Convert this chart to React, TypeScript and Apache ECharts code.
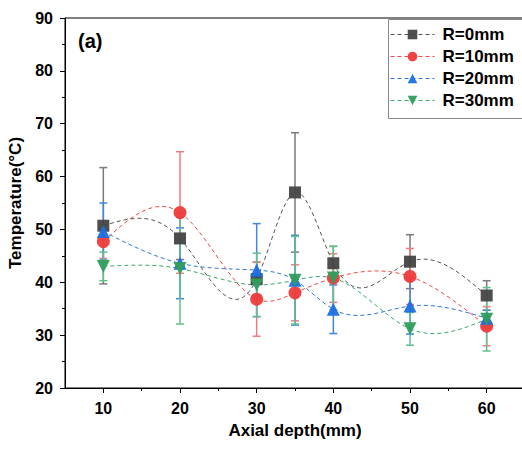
import React, { useEffect, useRef } from 'react';
import * as echarts from 'echarts';

const depths = [10, 20, 30, 35, 40, 50, 60];
const seriesNames = ['R=0mm', 'R=10mm', 'R=20mm', 'R=30mm'];
const r0 = [50.7, 48.3, 40.6, 57.0, 43.6, 43.9, 37.5];
const r0Err = [11.0, 4.0, 3.2, 11.3, 3.2, 5.1, 2.8];
const r10 = [47.7, 53.2, 36.8, 38.0, 40.8, 41.1, 31.7];
const r10Err = [3.2, 11.5, 7.0, 5.3, 4.6, 5.3, 3.7];
const r20 = [49.6, 43.6, 42.3, 40.4, 34.9, 35.5, 33.2];
const r20Err = [5.4, 6.7, 8.8, 8.5, 4.6, 5.3, 1.5];
const r30 = [43.0, 42.6, 39.5, 40.4, 40.8, 31.2, 33.0];
const r30Err = [2.7, 10.5, 6.0, 8.3, 6.0, 3.1, 6.0];
const xMajor = [10, 20, 30, 40, 50, 60];
const xMinor = [15, 25, 35, 45, 55];

const FONT = '"Liberation Sans", Arial, sans-serif';

const groups = [
  { name: seriesNames[0], vals: r0, errs: r0Err, marker: '#454545', line: '#555555', err: '#7a7a7a', symbol: 'rect', size: 12, rot: 0 },
  { name: seriesNames[1], vals: r10, errs: r10Err, marker: '#ee3b3b', line: '#ee4848', err: '#f07c7c', symbol: 'circle', size: 13, rot: 0 },
  { name: seriesNames[2], vals: r20, errs: r20Err, marker: '#1c6fe0', line: '#2e77da', err: '#3f88e2', symbol: 'triangle', size: 13, rot: 0 },
  { name: seriesNames[3], vals: r30, errs: r30Err, marker: '#2f9e5c', line: '#3aaa6a', err: '#62bf8c', symbol: 'triangle', size: 13, rot: 180 },
];

// natural cubic spline second derivatives
function splineM(xs: number[], ys: number[]): number[] {
  const n = xs.length;
  const M = new Array(n).fill(0);
  if (n < 3) return M;
  const h: number[] = [];
  for (let i = 0; i < n - 1; i++) h.push(xs[i + 1] - xs[i]);
  const a: number[] = new Array(n).fill(0);
  const b: number[] = new Array(n).fill(0);
  const c: number[] = new Array(n).fill(0);
  const d: number[] = new Array(n).fill(0);
  b[0] = 1; b[n - 1] = 1;
  for (let i = 1; i < n - 1; i++) {
    a[i] = h[i - 1];
    b[i] = 2 * (h[i - 1] + h[i]);
    c[i] = h[i];
    d[i] = 6 * ((ys[i + 1] - ys[i]) / h[i] - (ys[i] - ys[i - 1]) / h[i - 1]);
  }
  const cp = new Array(n).fill(0);
  const dp = new Array(n).fill(0);
  cp[0] = c[0] / b[0];
  dp[0] = d[0] / b[0];
  for (let i = 1; i < n; i++) {
    const m = b[i] - a[i] * cp[i - 1];
    cp[i] = c[i] / m;
    dp[i] = (d[i] - a[i] * dp[i - 1]) / m;
  }
  M[n - 1] = dp[n - 1];
  for (let i = n - 2; i >= 0; i--) M[i] = dp[i] - cp[i] * M[i + 1];
  return M;
}

export default function App() {
  const ref = useRef<HTMLDivElement>(null);
  useEffect(() => {
    if (!ref.current) return;
    const chart = echarts.init(ref.current, undefined, { renderer: 'svg' });
    const series: any[] = [];
    groups.forEach((g) => {
      series.push({
        type: 'custom',
        name: g.name + ' error',
        xAxisIndex: 0,
        yAxisIndex: 0,
        z: 1,
        data: depths.map((d, i) => [d, g.vals[i] - g.errs[i], g.vals[i] + g.errs[i]]),
        encode: { x: 0, y: [1, 2] },
        renderItem: (params: any, api: any) => {
          const x = api.value(0);
          const lo = api.coord([x, api.value(1)]);
          const hi = api.coord([x, api.value(2)]);
          const w = 4;
          const style = { stroke: g.err, lineWidth: 1.5, fill: 'none' };
          return {
            type: 'group',
            children: [
              { type: 'line', shape: { x1: lo[0], y1: lo[1], x2: hi[0], y2: hi[1] }, style },
              { type: 'line', shape: { x1: lo[0] - w, y1: lo[1], x2: lo[0] + w, y2: lo[1] }, style },
              { type: 'line', shape: { x1: hi[0] - w, y1: hi[1], x2: hi[0] + w, y2: hi[1] }, style },
            ],
          };
        },
      });
    });
    groups.forEach((g) => {
      const M = splineM(depths, g.vals);
      series.push({
        type: 'custom',
        name: g.name + ' curve',
        xAxisIndex: 0,
        yAxisIndex: 0,
        z: 2,
        data: depths.map((d, i) => [d, g.vals[i]]),
        encode: { x: 0, y: 1 },
        renderItem: (params: any, api: any) => {
          const i = params.dataIndex;
          if (i >= depths.length - 1) return null;
          const x0 = depths[i], x1 = depths[i + 1];
          const y0 = g.vals[i], y1 = g.vals[i + 1];
          const h = x1 - x0;
          const s = (y1 - y0) / h;
          const m0 = s - (h * (2 * M[i] + M[i + 1])) / 6;
          const m1 = s + (h * (M[i] + 2 * M[i + 1])) / 6;
          const p0 = api.coord([x0, y0]);
          const p1 = api.coord([x0 + h / 3, y0 + (m0 * h) / 3]);
          const p2 = api.coord([x1 - h / 3, y1 - (m1 * h) / 3]);
          const p3 = api.coord([x1, y1]);
          return {
            type: 'bezierCurve',
            shape: { x1: p0[0], y1: p0[1], cpx1: p1[0], cpy1: p1[1], cpx2: p2[0], cpy2: p2[1], x2: p3[0], y2: p3[1] },
            style: { stroke: g.line, lineWidth: 1, fill: 'none', lineDash: [4, 3] },
          };
        },
      });
    });
    groups.forEach((g) => {
      series.push({
        type: 'line',
        name: g.name,
        xAxisIndex: 0,
        yAxisIndex: 0,
        z: 3,
        data: depths.map((d, i) => [d, g.vals[i]]),
        symbol: g.symbol,
        symbolSize: g.size,
        symbolRotate: g.rot,
        itemStyle: { color: g.marker, opacity: 0.95 },
        lineStyle: { color: g.line, width: 1, type: [4, 3], opacity: 0 },
      });
    });
    chart.setOption({
      animation: false,
      textStyle: { fontFamily: FONT },
      grid: {
        left: 65, top: 18, width: 460, bottom: 62,
        outerBoundsMode: 'none', containLabel: false,
        show: true, borderColor: '#000', borderWidth: 1, backgroundColor: 'transparent',
      },
      legend: {
        data: seriesNames,
        orient: 'vertical',
        left: 388,
        top: 19,
        z: 12,
        padding: [7, 20, 5, 2],
        itemGap: 5,
        itemWidth: 44,
        itemHeight: 12,
        lineStyle: { opacity: 1, width: 1 },
        textStyle: { fontSize: 17, fontWeight: 'bold', color: '#000', fontFamily: FONT, padding: [0, 0, 0, 3] },
      },
      xAxis: [
        {
          type: 'value',
          min: 5,
          max: 65,
          name: 'Axial depth(mm)',
          nameLocation: 'middle',
          nameGap: 34,
          nameTextStyle: { fontSize: 17, fontWeight: 'bold', color: '#000', fontFamily: FONT },
          axisLine: { show: true, lineStyle: { color: '#000', width: 1 } },
          axisTick: { show: true, inside: false, length: 5, customValues: xMajor, lineStyle: { color: '#000' } },
          axisLabel: { customValues: xMajor, fontSize: 16, fontWeight: 'bold', color: '#000', margin: 12, fontFamily: FONT },
          splitLine: { show: false },
        },
        {
          type: 'value',
          min: 5,
          max: 65,
          position: 'bottom',
          axisLine: { show: false },
          axisTick: { show: true, inside: false, length: 3, customValues: xMinor, lineStyle: { color: '#000' } },
          axisLabel: { show: false },
          splitLine: { show: false },
        },
      ],
      yAxis: {
        type: 'value',
        min: 20,
        max: 90,
        interval: 10,
        name: 'Temperature(°C)',
        nameLocation: 'middle',
        nameGap: 37,
        nameTextStyle: { fontSize: 17, fontWeight: 'bold', color: '#000', fontFamily: FONT },
        axisLine: { show: true, lineStyle: { color: '#000', width: 1 } },
        axisTick: { show: true, inside: false, length: 5, lineStyle: { color: '#000' } },
        minorTick: { show: true, splitNumber: 2, length: 3, lineStyle: { color: '#000' } },
        axisLabel: { fontSize: 16, fontWeight: 'bold', color: '#000', margin: 12, fontFamily: FONT },
        splitLine: { show: false },
        minorSplitLine: { show: false },
      },
      graphic: [
        {
          type: 'rect',
          left: 388,
          top: 19,
          z: 10,
          shape: { width: 160, height: 99 },
          style: { fill: '#fff', stroke: '#888', lineWidth: 1 },
        },
        {
          type: 'text',
          left: 78,
          top: 31,
          style: { text: '(a)', font: `bold 20px ${FONT}`, fill: '#000' },
        },
      ],
      series,
    });
    return () => chart.dispose();
  }, []);
  return <div ref={ref} style={{ position: 'absolute', left: 0, top: 0, width: 522, height: 450, background: '#fff' }} />;
}
